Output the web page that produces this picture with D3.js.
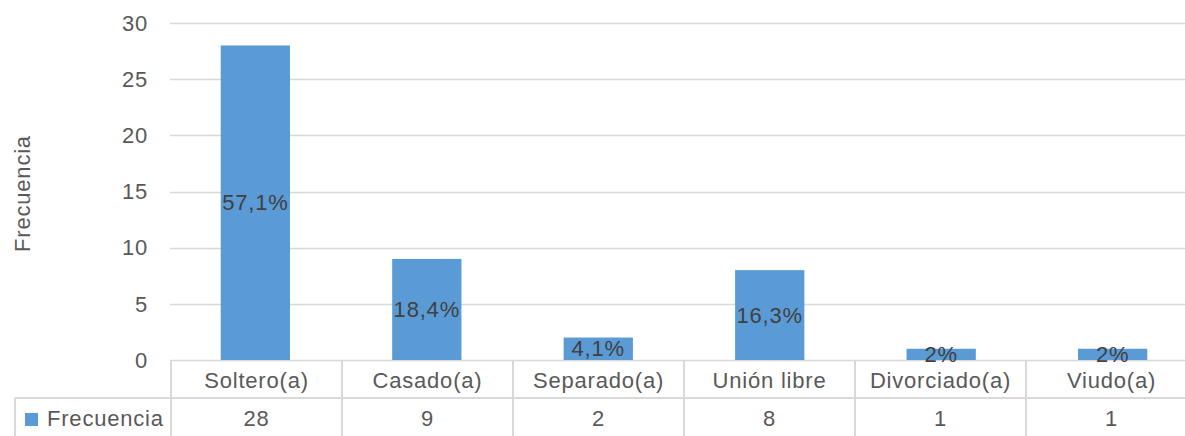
<!DOCTYPE html>
<html lang="es">
<head>
<meta charset="utf-8">
<title>Frecuencia por estado civil</title>
<script src="https://d3js.org/d3.v7.min.js"></script>
<style>
  body { margin: 0; background: #fff; overflow: hidden; }
  text { font-family: "Liberation Sans", "Open Sans", sans-serif; letter-spacing: 0.8px; }
</style>
</head>
<body>
<script>
// chart data
var categories = ["Soltero(a)", "Casado(a)", "Separado(a)", "Unión libre", "Divorciado(a)", "Viudo(a)"];
var values = [28, 9, 2, 8, 1, 1];
var pctLabels = ["57,1%", "18,4%", "4,1%", "16,3%", "2%", "2%"];
var yTicks = [0, 5, 10, 15, 20, 25, 30];
var seriesName = "Frecuencia";

var w = 1185, h = 436;
// the plot runs a little past the right edge of the picture
var plotLeft = 171, plotRight = 1197, plotTop = 23, plotBottom = 360;
var rowH = 38;
var fontSize = "22px";
var gridColor = "#d9d9d9";
var barColor = "#5b9bd5";
var textColor = "#595959";

var svg = d3.select("body").append("svg")
  .attr("width", w)
  .attr("height", h);

var x = d3.scaleBand()
  .domain(categories)
  .range([plotLeft, plotRight])
  .paddingInner(0.596)
  .paddingOuter(0.29);

var xCell = d3.scaleBand()
  .domain(categories)
  .range([plotLeft, plotRight]);

var y = d3.scaleLinear()
  .domain([0, 30])
  .range([plotBottom, plotTop]);

// gridlines
svg.selectAll("line.grid")
  .data(yTicks)
  .enter().append("line")
  .attr("class", "grid")
  .attr("x1", plotLeft - 1)
  .attr("x2", plotRight)
  .attr("y1", d => Math.round(y(d)) + 0.5)
  .attr("y2", d => Math.round(y(d)) + 0.5)
  .attr("stroke", gridColor)
  .attr("stroke-width", 1.5);

// y tick labels
svg.selectAll("text.ytick")
  .data(yTicks)
  .enter().append("text")
  .attr("class", "ytick")
  .attr("x", 148)
  .attr("y", d => y(d))
  .attr("dy", "0.35em")
  .attr("text-anchor", "end")
  .attr("fill", textColor)
  .style("font-size", fontSize)
  .text(d => d);

// axis title
svg.append("text")
  .attr("transform", "translate(30," + ((plotTop + plotBottom) / 2 + 2) + ") rotate(-90)")
  .attr("text-anchor", "middle")
  .attr("fill", textColor)
  .style("font-size", fontSize)
  .text(seriesName);

// bars
svg.selectAll("rect.bar")
  .data(values)
  .enter().append("rect")
  .attr("class", "bar")
  .attr("x", (d, i) => x(categories[i]))
  .attr("width", x.bandwidth())
  .attr("y", d => y(d))
  .attr("height", d => y(0) - y(d))
  .attr("fill", barColor);

// percent labels, centred in the bar
svg.selectAll("text.pct")
  .data(values)
  .enter().append("text")
  .attr("class", "pct")
  .attr("x", (d, i) => x(categories[i]) + x.bandwidth() / 2)
  .attr("y", d => (y(d) + y(0)) / 2)
  .attr("dy", "0.35em")
  .attr("text-anchor", "middle")
  .attr("fill", "#404040")
  .style("font-size", fontSize)
  .text((d, i) => pctLabels[i]);

// data table
var t = svg.append("g");
var legendX = 15;
var row1 = plotBottom, row2 = plotBottom + rowH;

t.append("line")
  .attr("x1", legendX).attr("x2", plotRight)
  .attr("y1", row2).attr("y2", row2);

var edges = categories.map(c => xCell(c));
t.selectAll("line.v")
  .data(edges)
  .enter().append("line")
  .attr("class", "v")
  .attr("x1", d => d).attr("x2", d => d)
  .attr("y1", row1).attr("y2", h);

t.append("line")
  .attr("x1", legendX).attr("x2", legendX)
  .attr("y1", row2).attr("y2", h);

t.selectAll("line")
  .attr("stroke", gridColor)
  .attr("stroke-width", 2);

t.selectAll("text.cat")
  .data(categories)
  .enter().append("text")
  .attr("class", "cat")
  .attr("x", d => xCell(d) + xCell.bandwidth() / 2)
  .attr("y", row1 + rowH / 2 + 1)
  .attr("dy", "0.35em")
  .attr("text-anchor", "middle")
  .attr("fill", textColor)
  .style("font-size", fontSize)
  .text(d => d);

t.selectAll("text.val")
  .data(values)
  .enter().append("text")
  .attr("class", "val")
  .attr("x", (d, i) => xCell(categories[i]) + xCell.bandwidth() / 2)
  .attr("y", row2 + rowH / 2 + 1)
  .attr("dy", "0.35em")
  .attr("text-anchor", "middle")
  .attr("fill", textColor)
  .style("font-size", fontSize)
  .text(d => d);

// legend key
t.append("rect")
  .attr("x", 25).attr("y", row2 + 15)
  .attr("width", 13).attr("height", 13)
  .attr("fill", barColor);

t.append("text")
  .attr("x", 47)
  .attr("y", row2 + rowH / 2 + 1)
  .attr("dy", "0.35em")
  .attr("fill", textColor)
  .style("font-size", fontSize)
  .text(seriesName);
</script>
</body>
</html>
